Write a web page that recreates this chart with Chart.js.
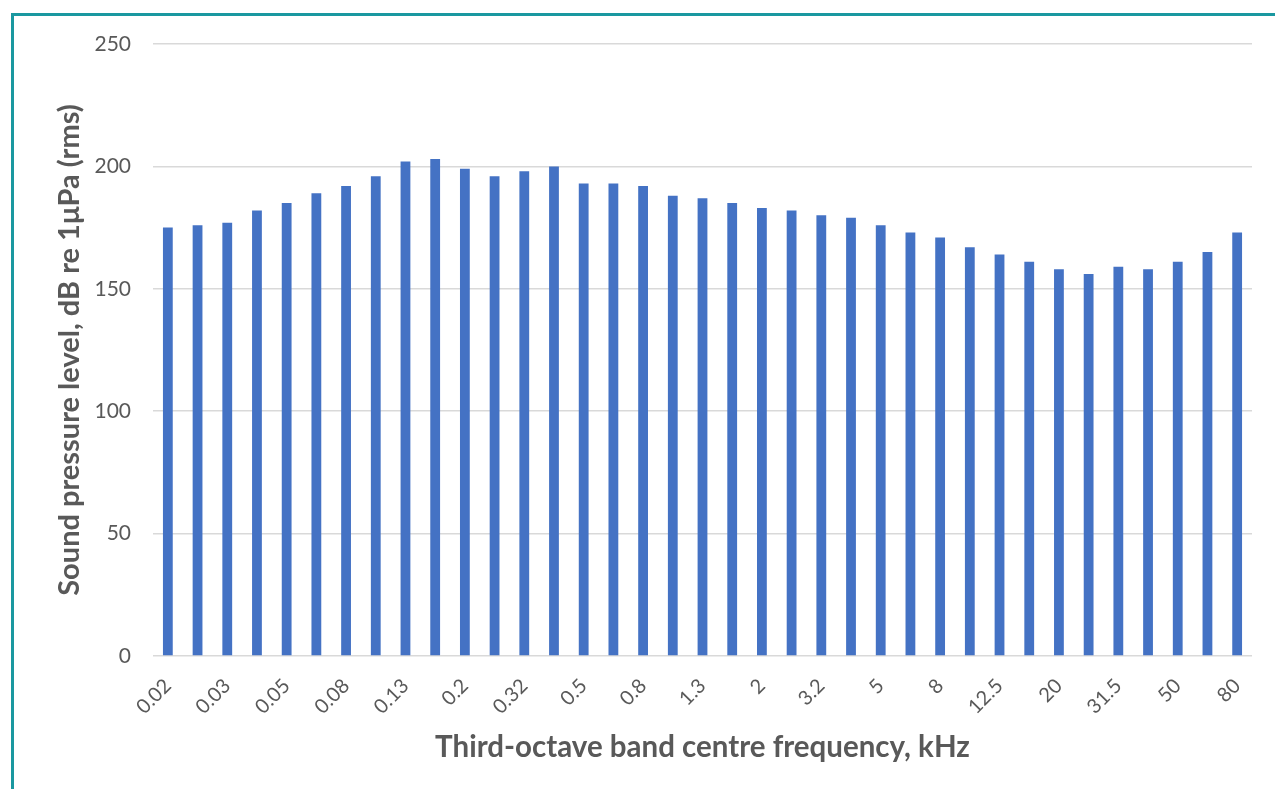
<!DOCTYPE html>
<html>
<head>
<meta charset="utf-8">
<script src="https://cdn.jsdelivr.net/npm/chart.js@4"></script>
<style>
  html, body { margin: 0; padding: 0; background: #fff; overflow: hidden; }
  #wrap { position: absolute; left: 0; top: 0; width: 1275px; height: 789px; }
  #frame { position: absolute; left: 11px; top: 13px; width: 1300px; height: 800px;
           border-top: 3px solid #1a98a0; border-left: 3px solid #1a98a0; pointer-events: none; }
</style>
</head>
<body>
<div id="wrap"><canvas id="splChart" width="1275" height="789"></canvas></div>
<div id="frame"></div>
<script>
// third-octave band centres (kHz), as Excel formats them
const bands = [
    "0.02", "0.025", "0.03", "0.04", "0.05", "0.063", "0.08", "0.1", "0.13", "0.16",
    "0.2", "0.25", "0.32", "0.4", "0.5", "0.63", "0.8", "1", "1.3", "1.6",
    "2", "2.5", "3.2", "4", "5", "6.3", "8", "10", "12.5", "16",
    "20", "25", "31.5", "40", "50", "63", "80"
];
// sound pressure level, dB re 1uPa (rms)
const splValues = [
    175, 176, 177, 182, 185, 189, 192, 196, 202, 203,
    199, 196, 198, 200, 193, 193, 192, 188, 187, 185,
    183, 182, 180, 179, 176, 173, 171, 167, 164, 161,
    158, 156, 159, 158, 161, 165, 173
];
const yTicks = [0, 50, 100, 150, 200, 250];

const txtColor = "#595959";
const gridColor = "#d9d9d9";
const fontFam = "Lato, 'Open Sans', sans-serif";

const ctx = document.getElementById("splChart").getContext("2d");
new Chart(ctx, {
    type: "bar",
    data: {
        labels: bands,
        datasets: [{
            label: "SPL",
            data: splValues,
            backgroundColor: "#4472c4",
            borderWidth: 0,
            barPercentage: 0.33,
            categoryPercentage: 1.0
        }]
    },
    options: {
        responsive: false,
        animation: false,
        layout: { padding: { top: 44, right: 23, bottom: 0, left: 0 } },
        plugins: {
            legend: { display: false },
            tooltip: { enabled: false }
        },
        scales: {
            x: {
                grid: { display: false },
                border: { display: false },
                ticks: {
                    autoSkip: false,
                    maxRotation: 45,
                    minRotation: 45,
                    padding: 10,
                    color: txtColor,
                    font: { family: fontFam, size: 20 },
                    callback: (val, i) => (i % 2 === 0 ? bands[i] : "")
                },
                title: {
                    display: true,
                    text: "Third-octave band centre frequency, kHz",
                    color: txtColor,
                    font: { family: fontFam, size: 29.5, weight: "bold" },
                    padding: { top: 0, bottom: 24 }
                },
                afterFit: (scale) => { scale.height = 133; }
            },
            y: {
                min: 0,
                max: 250,
                border: { display: false },
                grid: { color: gridColor, lineWidth: 1.5, drawTicks: false },
                afterBuildTicks: (scale) => { scale.ticks = yTicks.map(v => ({ value: v })); },
                ticks: {
                    padding: 22,
                    color: txtColor,
                    font: { family: fontFam, size: 21 }
                },
                title: {
                    display: true,
                    text: "Sound pressure level, dB re 1μPa (rms)",
                    color: txtColor,
                    font: { family: fontFam, size: 29, weight: "bold" },
                    padding: { top: 52, bottom: 0 }
                },
                afterFit: (scale) => { scale.width = 153; }
            }
        }
    }
});
</script>
</body>
</html>
